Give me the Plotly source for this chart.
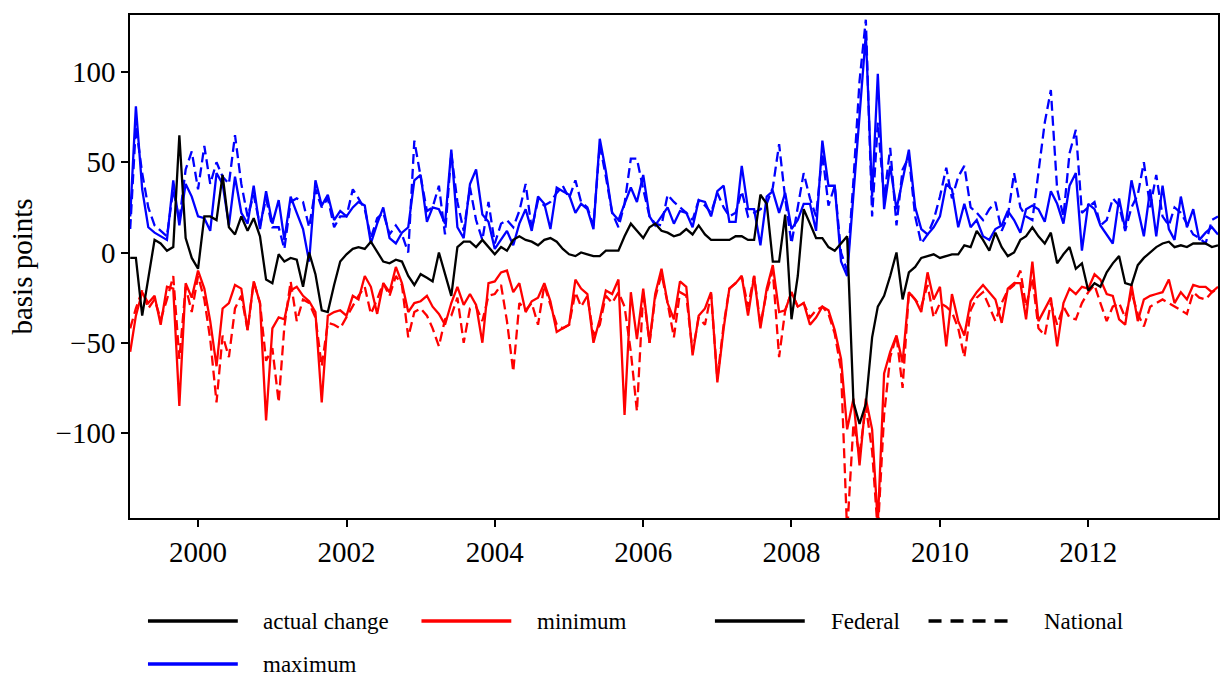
import plotly.graph_objects as go
import pandas as pd

# Monthly observations, Feb 1999 .. Oct 2013 (basis points)
dates = pd.date_range("1999-02-01", periods=177, freq="MS")

actual_change = [
    -3, -3, -35, -13, 7, 5, 1, 3, 65, 8, -3, -9,
    20, 20, 18, 43, 14, 10, 20, 12, 19, 9, -15, -17,
    -1, -5, -3, -4, -19, 0, -12, -32, -33, -18, -5, -1,
    2, 3, 2, 6, 0, -5, -6, -4, -5, -13, -18, -12,
    -14, -16, 0, -12, -24, 3, 6, 6, 3, 7, 3, -1,
    3, 1, 7, 9, 7, 6, 4, 7, 8, 6, 2, -1,
    -2, 0, -1, -2, -2, 1, 1, 1, 9, 16, 12, 8,
    14, 16, 12, 11, 9, 10, 13, 10, 15, 10, 7, 7,
    7, 7, 9, 9, 7, 7, 32, 27, -5, -5, 21, -37,
    -13, 24, 16, 8, 8, 3, 1, 5, 9, -83, -95, -84,
    -47, -30, -24, -13, 0, -26, -11, -8, -3, -2, -1, -3,
    -2, -1, -1, 4, 3, 12, 7, 1, 11, 3, -2, 0,
    7, 9, 14, 9, 5, 11, -6, -1, 3, -9, -6, -21,
    -17, -19, -11, -6, -2, -17, -18, -7, -3, 0, 3, 5,
    6, 3, 4, 3, 5, 5, 5, 3, 4,
]

min_federal = [
    -55, -35, -22, -28, -24, -40, -19, -20, -85, -17, -25, -10,
    -20, -38, -63, -31, -28, -18, -20, -43, -16, -28, -93, -42,
    -36, -37, -21, -19, -24, -27, -33, -83, -35, -33, -32, -35,
    -24, -26, -13, -19, -34, -17, -22, -8, -17, -33, -28, -27,
    -24, -30, -34, -40, -28, -19, -29, -23, -29, -50, -17, -16,
    -11, -10, -22, -17, -33, -27, -25, -17, -27, -44, -42, -40,
    -15, -20, -23, -50, -37, -21, -23, -15, -90, -22, -48, -20,
    -50, -23, -9, -28, -37, -16, -19, -57, -35, -31, -22, -72,
    -42, -20, -17, -13, -35, -13, -42, -20, -7, -33, -32, -22,
    -30, -28, -40, -36, -30, -32, -43, -59, -98, -81, -118, -81,
    -98, -150, -67, -55, -46, -61, -22, -26, -33, -11, -26, -19,
    -52, -23, -38, -46, -27, -22, -18, -22, -26, -39, -20, -17,
    -17, -37, -5, -38, -31, -25, -52, -28, -20, -23, -19, -20,
    -12, -15, -23, -24, -37, -40, -18, -38, -26, -24, -23, -22,
    -15, -28, -22, -26, -18, -19, -19, -22, -19,
]

min_national = [
    -42, -31, -21, -31, -26, -37, -26, -13, -59, -19, -33, -13,
    -26, -48, -83, -46, -58, -31, -24, -43, -16, -28, -60, -53,
    -83, -41, -16, -38, -26, -28, -36, -63, -39, -40, -42, -36,
    -30, -24, -19, -34, -26, -17, -24, -13, -18, -47, -33, -31,
    -35, -42, -52, -37, -35, -25, -50, -31, -30, -38, -24, -23,
    -18, -38, -66, -28, -32, -28, -40, -18, -29, -40, -42, -40,
    -22, -30, -24, -46, -40, -24, -28, -22, -30, -55, -88, -22,
    -50, -25, -12, -28, -47, -22, -24, -55, -36, -40, -23, -70,
    -40, -20, -17, -13, -30, -13, -40, -22, -10, -58, -32, -22,
    -30, -28, -36, -32, -30, -34, -45, -65, -155, -95, -112, -85,
    -110, -155, -90, -58, -46, -75, -22, -26, -30, -18, -36, -28,
    -30, -33, -42, -58, -32, -25, -22, -30, -38, -28, -21, -18,
    -10, -30, -14, -42, -46, -28, -40, -30, -36, -37, -28, -22,
    -18, -28, -38, -30, -28, -36, -22, -34, -41, -30, -28, -26,
    -28, -30, -32, -34, -22, -25, -26, -22, -20,
]

max_federal = [
    20, 81, 35, 14, 11, 9, 7, 40, 15, 38, 31, 20,
    19, 12, 44, 38, 15, 42, 22, 16, 37, 13, 34, 16,
    29, 7, 31, 22, 13, -5, 40, 26, 32, 18, 23, 20,
    25, 28, 26, 5, 16, 25, 8, 5, 11, 14, 40, 43,
    17, 25, 24, 16, 57, 14, 8, 38, 46, 21, 17, 2,
    7, 12, 4, 16, 24, 12, 31, 27, 13, 36, 34, 32,
    22, 27, 24, 13, 63, 45, 22, 18, 27, 36, 28, 43,
    20, 15, 20, 25, 16, 23, 22, 14, 29, 28, 20, 34,
    37, 17, 17, 48, 24, 24, 4, 31, 34, 22, 33, 13,
    18, 27, 27, 12, 62, 37, 37, -5, -13, 31, 73, 121,
    31, 99, 24, 48, 24, 40, 57, 25, 13, 10, 14, 20,
    38, 35, 14, 27, 14, 18, 9, 7, 13, 15, 23, 18,
    11, 24, 26, 24, 17, 34, 27, 16, 37, 44, 1, 27,
    24, 15, 10, 5, 30, 13, 40, 25, 9, 35, 9, 37,
    13, 7, 31, 14, 24, 7, 11, 14, 10,
]

max_national = [
    13, 70, 44, 25, 15, 12, 9, 35, 18, 46, 56, 35,
    59, 38, 50, 42, 38, 65, 38, 20, 32, 15, 30, 14,
    14, 2, 28, 30, 28, 14, 35, 25, 30, 14, 20, 20,
    35, 30, 24, 8, 19, 22, 10, 15, 10, 0, 62, 42,
    23, 25, 37, 10, 55, 28, 12, 36, 18, 7, 28, 5,
    16, 18, 14, 23, 38, 13, 29, 26, 28, 33, 37, 30,
    40, 28, 25, 15, 60, 42, 22, 14, 27, 52, 52, 35,
    20, 16, 15, 32, 28, 25, 22, 18, 29, 26, 22, 33,
    25, 20, 22, 34, 20, 22, 24, 27, 36, 60, 30, 5,
    25, 44, 30, 20, 55, 26, 37, 0, -10, 40, 95, 129,
    20, 72, 30, 58, 15, 46, 53, 20, 5, 10, 18, 31,
    47, 30, 42, 48, 25, 22, 18, 24, 28, 12, 20, 44,
    25, 20, 18, 46, 72, 90, 35, 20, 55, 68, 22, 25,
    28, 15, 18, 30, 26, 12, 25, 32, 50, 25, 43, 20,
    15, 25, 22, 16, 10, 8, 5, 18, 20,
]

year_ticks = [2000, 2002, 2004, 2006, 2008, 2010, 2012]
y_ticks = [-100, -50, 0, 50, 100]

colour_labels = ["actual change", "minimum", "maximum"]
colour_values = ["black", "red", "blue"]
type_labels = ["Federal", "National"]

FONT = "Liberation Serif, Times New Roman, serif"
DASH = "10px,5px"
LW = 2.3

fig = go.Figure()

series = [
    (max_national, "blue", DASH),
    (max_federal, "blue", "solid"),
    (min_national, "red", DASH),
    (min_federal, "red", "solid"),
    (actual_change, "black", "solid"),
]
for values, colour, dash in series:
    fig.add_trace(go.Scatter(
        x=dates, y=values, mode="lines",
        line=dict(color=colour, width=LW, dash=dash),
        showlegend=False, hoverinfo="skip",
    ))

# plot area in pixels: x 130..1220, y 15..518
def px_x(px):
    return (px - 130) / 1090.0

def px_y(py):
    return (518 - py) / 503.0

shapes = []
annotations = []

def legend_entry(x0, x1, y, text_x, label, colour, dash="solid"):
    shapes.append(dict(
        type="line", xref="paper", yref="paper",
        x0=px_x(x0), x1=px_x(x1), y0=px_y(y), y1=px_y(y),
        line=dict(color=colour, width=3.5, dash=dash),
    ))
    annotations.append(dict(
        xref="paper", yref="paper", x=px_x(text_x), y=px_y(y),
        text=label, showarrow=False, xanchor="left", yanchor="middle",
        font=dict(family=FONT, size=23, color="black"),
    ))

legend_entry(148, 238, 621, 261, colour_labels[0], colour_values[0])
legend_entry(422, 512, 621, 536, colour_labels[1], colour_values[1])
legend_entry(148, 238, 664, 261, colour_labels[2], colour_values[2])
legend_entry(716, 806, 621, 830, type_labels[0], "black")
legend_entry(930, 1010, 621, 1044, type_labels[1], "black", "13px,9px")

fig.update_layout(
    width=1220, height=677,
    margin=dict(l=130, r=0, t=15, b=159),
    paper_bgcolor="white", plot_bgcolor="white",
    font=dict(family=FONT, size=29, color="black"),
    shapes=shapes, annotations=annotations,
    showlegend=False,
)

fig.update_xaxes(
    type="date",
    range=["1999-01-31", "2013-10-01"],
    tickvals=[f"{y}-01-01" for y in year_ticks],
    ticktext=[str(y) for y in year_ticks],
    ticks="outside", ticklen=7, tickwidth=1.5, tickcolor="black",
    showline=True, linecolor="black", linewidth=1.5, mirror=True,
    showgrid=False, zeroline=False,
    tickfont=dict(family=FONT, size=29, color="black"),
)

fig.update_yaxes(
    range=[-147.1, 131.6],
    tickvals=y_ticks,
    ticktext=[str(v).replace("-", "\u2212") for v in y_ticks],
    ticks="outside", ticklen=7, tickwidth=1.5, tickcolor="black",
    showline=True, linecolor="black", linewidth=1.5, mirror=True,
    showgrid=False, zeroline=False,
    tickfont=dict(family=FONT, size=29, color="black"),
    title=dict(text="basis points", standoff=14,
               font=dict(family=FONT, size=29, color="black")),
)

fig.write_html("out.html")
